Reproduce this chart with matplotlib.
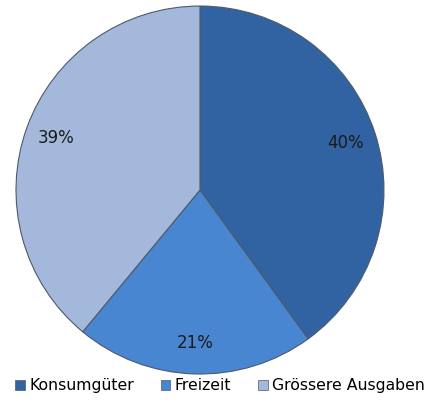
import matplotlib.pyplot as plt
from matplotlib.patches import Patch

# spending shares (percent)
labels = ['Konsumgüter', 'Freizeit', 'Grössere Ausgaben']
shares = [40, 21, 39]
colors = ['#3163a3', '#4886d1', '#a4b8dc']

fig = plt.figure(figsize=(4.36, 4.05), dpi=100)
ax = fig.add_axes([0.0367, 0.0765, 0.844, 0.9086])

wedges, texts, autotexts = ax.pie(
    shares, colors=colors, startangle=90, counterclock=False,
    autopct='%d%%', pctdistance=0.83, radius=1.0,
    wedgeprops=dict(edgecolor='#4d5a6a', linewidth=0.8),
    textprops=dict(fontsize=12, color='#1a1a1a'))
ax.set_xlim(-1.0, 1.0)
ax.set_ylim(-1.0, 1.0)
ax.set_aspect('auto')
ax.axis('off')

handles = [Patch(facecolor=c, edgecolor='#4d5a6a', linewidth=0.5) for c in colors]
fig.legend(handles, labels, loc='center', bbox_to_anchor=(0.505, 0.048), ncol=3,
           frameon=False, fontsize=11.3, handlelength=0.6, handleheight=0.6,
           handletextpad=0.3, columnspacing=1.7)

fig.savefig('out.png', dpi=100)
